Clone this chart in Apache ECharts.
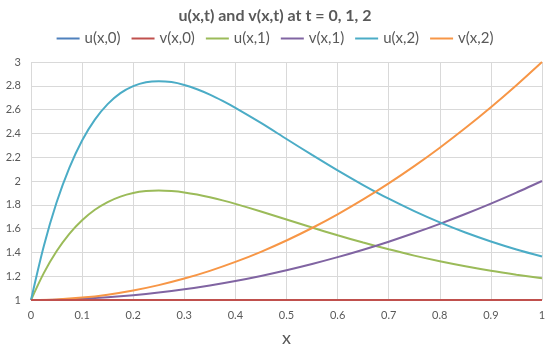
<!DOCTYPE html>
<html><head><meta charset="utf-8">
<script src="https://cdn.jsdelivr.net/npm/echarts@6/dist/echarts.min.js"></script>
<style>html,body{margin:0;padding:0;background:#fff}#c{width:550px;height:352px}</style>
</head><body><div id="c"></div>
<script>
const xU = [0,0.025,0.05,0.075,0.1,0.125,0.15,0.175,0.2,0.225,0.25,0.275,0.3,0.325,0.35,0.375,0.4,0.45,0.5,0.55,0.6,0.65,0.7,0.75,0.8,0.85,0.9,0.95,1];
const u0 = [1,1,1,1,1,1,1,1,1,1,1,1,1,1,1,1,1,1,1,1,1,1,1,1,1,1,1,1,1];
const u1 = [1.000,1.226,1.409,1.556,1.670,1.758,1.823,1.869,1.899,1.915,1.920,1.915,1.904,1.886,1.863,1.837,1.808,1.744,1.677,1.609,1.544,1.483,1.426,1.373,1.326,1.284,1.246,1.213,1.183];
const u2 = [1.000,1.452,1.819,2.111,2.341,2.516,2.646,2.738,2.797,2.830,2.839,2.831,2.807,2.771,2.726,2.673,2.615,2.488,2.353,2.219,2.089,1.966,1.851,1.747,1.652,1.567,1.492,1.425,1.366];
const xV = [0,0.05,0.1,0.15,0.2,0.25,0.3,0.35,0.4,0.45,0.5,0.55,0.6,0.65,0.7,0.75,0.8,0.85,0.9,0.95,1];
const v0 = [1,1,1,1,1,1,1,1,1,1,1,1,1,1,1,1,1,1,1,1,1];
const v1 = [1,1.0025,1.01,1.0225,1.04,1.0625,1.09,1.1225,1.16,1.2025,1.25,1.3025,1.36,1.4225,1.49,1.5625,1.64,1.7225,1.81,1.9025,2];
const v2 = [1,1.005,1.02,1.045,1.08,1.125,1.18,1.245,1.32,1.405,1.5,1.605,1.72,1.845,1.98,2.125,2.28,2.445,2.62,2.805,3];
const seriesNames = ['u(x,0)','v(x,0)','u(x,1)','v(x,1)','u(x,2)','v(x,2)'];
const colors = ['#4F81BD','#C0504D','#9BBB59','#8064A2','#4BACC6','#F79646'];
const pairs = (xs, ys) => xs.map((x, i) => [x, ys[i]]);
const dataSets = [pairs(xU,u0), pairs(xV,v0), pairs(xU,u1), pairs(xV,v1), pairs(xU,u2), pairs(xV,v2)];
const order = [0,2,3,4,5,1];
const chart = echarts.init(document.getElementById('c'));
const font = 'Lato, "Liberation Sans", sans-serif';
chart.setOption({
  animation: false,
  color: colors,
  title: {text: 'u(x,t) and v(x,t) at t = 0, 1, 2', left: 'center', top: 3,
    textStyle: {fontSize: 16, fontWeight: 'bold', color: '#595959', fontFamily: font}},
  legend: {top: 26, left: 'center', itemWidth: 23, itemHeight: 2, itemGap: 11, icon: 'rect',
    data: seriesNames,
    textStyle: {fontSize: 15, color: '#595959', fontFamily: font}},
  grid: {left: 31, right: 8, top: 62, bottom: 52, containLabel: false},
  xAxis: {type: 'value', min: 0, max: 1, interval: 0.1, name: 'x', nameLocation: 'middle', nameGap: 29,
    nameTextStyle: {fontSize: 18, color: '#595959', fontFamily: font},
    axisLine: {show: false}, axisTick: {show: false},
    axisLabel: {fontSize: 11, color: '#595959', fontFamily: font, margin: 10},
    splitLine: {show: true, lineStyle: {color: '#D9D9D9', width: 1}}},
  yAxis: {type: 'value', min: 1, max: 3, interval: 0.2,
    axisLine: {show: false}, axisTick: {show: false},
    axisLabel: {fontSize: 11, color: '#595959', fontFamily: font, margin: 10},
    splitLine: {show: true, lineStyle: {color: '#D9D9D9', width: 1}}},
  series: order.map(i => ({
    name: seriesNames[i], type: 'line', data: dataSets[i], smooth: 0.3, showSymbol: false,
    lineStyle: {width: 2, color: colors[i]}, itemStyle: {color: colors[i]}
  }))
});
</script></body></html>
